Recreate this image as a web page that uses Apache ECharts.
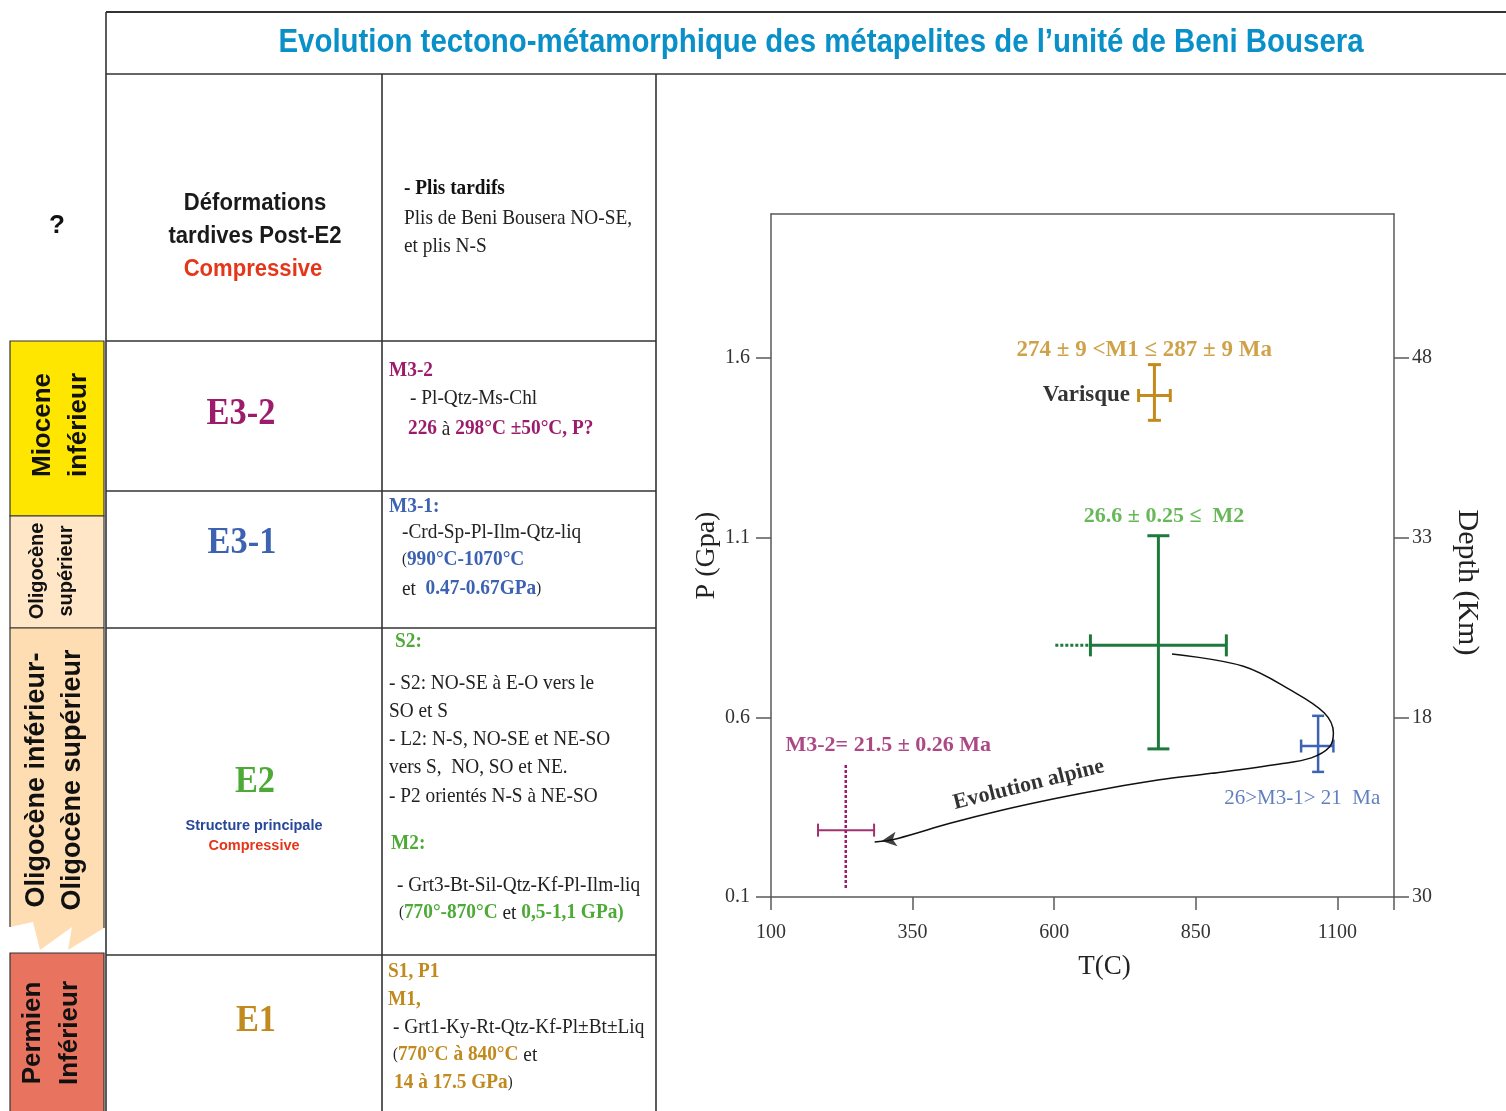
<!DOCTYPE html>
<html>
<head>
<meta charset="utf-8">
<script src="https://cdn.jsdelivr.net/npm/echarts@6/dist/echarts.min.js"></script>
<style>
  html, body { margin: 0; padding: 0; background: #ffffff; }
  #main { width: 1506px; height: 1111px; }
</style>
</head>
<body>
<div id="main"></div>
<script>
// ---------- P–T diagram values ----------
const tempTicks = [100, 350, 600, 850, 1100];
const tempTickMarks = [100, 350, 600, 850, 1100, 1200];
const pressTicks = [0.1, 0.6, 1.1, 1.6];
const depthTickLabels = ['30', '18', '33', '48'];

// error crosses: [T centre, P centre, T min, T max, P min, P max]
const m1Cross = [777, 1.495, 749, 805, 1.426, 1.581];
const m2Cross = [784, 0.80, 664, 904, 0.512, 1.105];
const m2Extension = [[602, 0.80], [664, 0.80]];
const m31Cross = [1066, 0.52, 1036, 1093, 0.448, 0.604];
const m32Cross = [232, 0.286, 183, 282, 0.125, 0.47];

// retrograde alpine path (T °C, P GPa), ending at the arrow tip
const alpinePath = [
  [808, 0.776], [934, 0.742], [1017, 0.676], [1077, 0.612], [1093, 0.556],
  [1086, 0.517], [1054, 0.487], [998, 0.470], [878, 0.444], [786, 0.426],
  [694, 0.402], [602, 0.374], [509, 0.342], [416, 0.305], [324, 0.263], [283, 0.253]
];

// annotations in the diagram (text, anchor T, anchor P)
const plotNotes = [
  ['274 ± 9 <M1 ≤ 287 ± 9 Ma', 759, 1.622],
  ['Varisque', 734, 1.497],
  ['26.6 ± 0.25 ≤  M2', 794, 1.160],
  ['26>M3-1> 21  Ma', 1038, 0.373],
  ['M3-2= 21.5 ± 0.26 Ma', 307, 0.523],
  ['Evolution alpine', 555, 0.412]
];

// ---------- table content ----------
const titleText = 'Evolution tectono-métamorphique des métapelites de l’unité de Beni Bousera';
const eraNames = [
  ['Miocene', 'inférieur'],
  ['Oligocène', 'supérieur'],
  ['Oligocène inférieur-', 'Oligocène supérieur'],
  ['Permien', 'Inférieur']
];
const stageNames = ['E3-2', 'E3-1', 'E2', 'E1'];
const lateDeformation = ['Déformations', 'tardives Post-E2', 'Compressive'];
const e2Notes = ['Structure principale', 'Compressive'];
const cellNotes = [
  '{k|- Plis tardifs}', 'Plis de Beni Bousera NO-SE,', 'et plis N-S',
  '{p|M3-2}', '- Pl-Qtz-Ms-Chl', '{p|226} à {p|298°C ±50°C, P?}',
  '{b|M3-1:}', '-Crd-Sp-Pl-Ilm-Qtz-liq', '{s|(}{b|990°C-1070°C}', 'et  {b|0.47-0.67GPa}{s|)}',
  '{g|S2:}', '- S2: NO-SE à E-O vers le', 'SO et S', '- L2: N-S, NO-SE et NE-SO',
  'vers S,  NO, SO et NE.', '- P2 orientés N-S à NE-SO', '{g|M2:}',
  '- Grt3-Bt-Sil-Qtz-Kf-Pl-Ilm-liq', '{s|(}{g|770°-870°C} et {g|0,5-1,1 GPa)}',
  '{o|S1, P1}', '{o|M1,}', '- Grt1-Ky-Rt-Qtz-Kf-Pl±Bt±Liq', '{s|(}{o|770°C à 840°C} et',
  '{o|14 à 17.5 GPa}{s|)}'
];

// ---------- layout & styles ----------
const SERIF = '"Liberation Serif", "Times New Roman", serif';
const SANS = '"Liberation Sans", Arial, sans-serif';
const C = {
  purple: '#9C1C6B', blue: '#3D62B1', green: '#4DAA37', gold: '#C18A1F',
  red: '#E5361A', title: '#0A90C8', ink: '#222222', rule: '#333333',
  darkGreen: '#1D7A3C', crossPurple: '#A3306F', crossGold: '#C38B1B', crossBlue: '#3E63B4'
};
const noteXY = [
  [404, 189], [404, 218], [404, 246],
  [389, 371], [410, 398], [408, 429],
  [389, 507], [402, 532], [402, 560], [402, 589],
  [395, 642], [389, 683], [389, 711], [389, 739], [389, 767], [389, 796], [391, 844],
  [397, 885], [399, 913],
  [388, 972], [388, 1000], [393, 1027], [393, 1055], [394, 1083]
];
const noteStyles = [
  { color: '#C38B1B', size: 23, weight: 'bold', align: 'center' },
  { color: '#000', size: 23, weight: 'bold', align: 'right' },
  { color: '#42A530', size: 22, weight: 'bold', align: 'center' },
  { color: '#3A5FB0', size: 21, weight: 'normal', align: 'center' },
  { color: '#971A66', size: 22, weight: 'bold', align: 'center' },
  { color: '#000', size: 22, weight: 'bold', align: 'center', rotate: 14 }
];

function rs(color, weight, size) {
  return { fill: color, fontWeight: weight, fontSize: size, fontFamily: SERIF };
}
const noteRich = {
  k: rs('#111', 'bold', 21),
  p: rs(C.purple, 'bold', 21),
  b: rs(C.blue, 'bold', 21),
  g: rs(C.green, 'bold', 21),
  o: rs(C.gold, 'bold', 21),
  s: rs(C.ink, 'normal', 16)
};

function text(x, y, str, o) {
  return {
    type: 'text', x: x, y: y, rotation: o.rotation || 0, scaleX: o.scaleX || 1,
    silent: true, z: 10,
    style: {
      text: str, fill: o.fill || C.ink, fontSize: o.size, fontFamily: o.family || SANS,
      fontWeight: o.weight || 'normal', align: o.align || 'center',
      verticalAlign: 'middle', rich: o.rich
    }
  };
}
function rule(x1, y1, x2, y2, w) {
  return { type: 'line', silent: true, z: 5,
    shape: { x1: x1, y1: y1, x2: x2, y2: y2 },
    style: { stroke: C.rule, lineWidth: w || 1.6 } };
}

const graphics = [];
// frame of the table
graphics.push(rule(106, 12, 1506, 12, 2));
graphics.push(rule(106, 74, 1506, 74, 1.6));
graphics.push(rule(106, 12, 106, 1111, 1.6));
graphics.push(rule(382, 74, 382, 1111, 1.6));
graphics.push(rule(656, 74, 656, 1111, 1.6));
[341, 491, 628, 955].forEach(y => graphics.push(rule(106, y, 656, y, 1.6)));

// era column
const eraFill = ['#FFE600', '#FEE6C7', '#FDDDB1', '#E8735F'];
graphics.push({ type: 'rect', silent: true, shape: { x: 10, y: 341, width: 94, height: 175 },
  style: { fill: eraFill[0], stroke: C.rule, lineWidth: 1.2 } });
graphics.push({ type: 'rect', silent: true, shape: { x: 10, y: 516, width: 94, height: 112 },
  style: { fill: eraFill[1], stroke: C.rule, lineWidth: 1.2 } });
graphics.push({ type: 'polygon', silent: true,
  shape: { points: [[10, 628], [104, 628], [104, 928], [68, 950], [72, 927], [40, 950], [33, 922], [10, 927]] },
  style: { fill: eraFill[2], stroke: null } });
graphics.push(rule(10, 628, 104, 628, 1.2));
graphics.push(rule(10, 628, 10, 927, 1.2));
graphics.push(rule(104, 628, 104, 928, 1.2));
graphics.push({ type: 'rect', silent: true, shape: { x: 10, y: 953, width: 94, height: 160 },
  style: { fill: eraFill[3], stroke: C.rule, lineWidth: 1.2 } });

const up = Math.PI / 2;
graphics.push(text(43, 425, eraNames[0][0], { size: 26, weight: 'bold', rotation: up, fill: '#111' }));
graphics.push(text(79, 425, eraNames[0][1], { size: 26, weight: 'bold', rotation: up, fill: '#111' }));
graphics.push(text(37, 571, eraNames[1][0], { size: 20, weight: 'bold', rotation: up, fill: '#111' }));
graphics.push(text(66, 571, eraNames[1][1], { size: 20, weight: 'bold', rotation: up, fill: '#111' }));
graphics.push(text(37, 780, eraNames[2][0], { size: 27, weight: 'bold', rotation: up, fill: '#111' }));
graphics.push(text(73, 780, eraNames[2][1], { size: 27, weight: 'bold', rotation: up, fill: '#111' }));
graphics.push(text(33, 1033, eraNames[3][0], { size: 26, weight: 'bold', rotation: up, fill: '#111' }));
graphics.push(text(70, 1033, eraNames[3][1], { size: 26, weight: 'bold', rotation: up, fill: '#111' }));
graphics.push(text(57, 226, '?', { size: 26, weight: 'bold', fill: '#111' }));

// title (condensed by horizontal scaling)
graphics.push(text(821, 43, titleText, { size: 34, weight: 'bold', fill: C.title, scaleX: 0.865 }));

// stage column
graphics.push(text(255, 204, lateDeformation[0], { size: 23, weight: 'bold', fill: '#1a1a1a', scaleX: 0.96 }));
graphics.push(text(255, 237, lateDeformation[1], { size: 23, weight: 'bold', fill: '#1a1a1a', scaleX: 0.96 }));
graphics.push(text(253, 270, lateDeformation[2], { size: 23, weight: 'bold', fill: C.red, scaleX: 0.96 }));
graphics.push(text(241, 414, stageNames[0], { size: 37, weight: 'bold', family: SERIF, fill: C.purple, scaleX: 0.93 }));
graphics.push(text(242, 543, stageNames[1], { size: 37, weight: 'bold', family: SERIF, fill: C.blue, scaleX: 0.93 }));
graphics.push(text(255, 782, stageNames[2], { size: 37, weight: 'bold', family: SERIF, fill: C.green, scaleX: 0.93 }));
graphics.push(text(254, 826, e2Notes[0], { size: 14.5, weight: 'bold', fill: '#27479A' }));
graphics.push(text(254, 846, e2Notes[1], { size: 14.5, weight: 'bold', fill: C.red }));
graphics.push(text(256, 1021, stageNames[3], { size: 37, weight: 'bold', family: SERIF, fill: C.gold, scaleX: 0.93 }));

// notes column
cellNotes.forEach((s, i) => {
  graphics.push(text(noteXY[i][0], noteXY[i][1], s,
    { size: 21, family: SERIF, align: 'left', fill: C.ink, rich: noteRich, scaleX: 0.92 }));
});

// ---------- diagram series ----------
function crossSeries(values, o) {
  return {
    type: 'custom', silent: true, z: 3, data: [values],
    renderItem: function (params, api) {
      const T = api.value(0), P = api.value(1);
      const L = api.coord([api.value(2), P]), R = api.coord([api.value(3), P]);
      const B = api.coord([T, api.value(4)]), U = api.coord([T, api.value(5)]);
      const hs = { stroke: o.hColor, lineWidth: o.hWidth, lineDash: o.hDash || null };
      const vs = { stroke: o.vColor, lineWidth: o.vWidth, lineDash: o.vDash || null };
      const kids = [
        { type: 'line', shape: { x1: L[0], y1: L[1], x2: R[0], y2: R[1] }, style: hs },
        { type: 'line', shape: { x1: B[0], y1: B[1], x2: U[0], y2: U[1] }, style: vs }
      ];
      if (o.hCap) {
        [L, R].forEach(p => kids.push({ type: 'line',
          shape: { x1: p[0], y1: p[1] - o.hCap / 2, x2: p[0], y2: p[1] + o.hCap / 2 },
          style: { stroke: o.hColor, lineWidth: o.hWidth } }));
      }
      if (o.vCap) {
        [B, U].forEach(p => kids.push({ type: 'line',
          shape: { x1: p[0] - o.vCap / 2, y1: p[1], x2: p[0] + o.vCap / 2, y2: p[1] },
          style: { stroke: o.vColor, lineWidth: o.vWidth } }));
      }
      return { type: 'group', children: kids };
    }
  };
}

const axisFont = { fontFamily: SERIF, fontSize: 20, color: '#333' };
const axisLine = { show: true, onZero: false, lineStyle: { color: '#5a5a5a', width: 1.5 } };

const option = {
  animation: false,
  backgroundColor: '#ffffff',
  grid: { left: 771, top: 214, width: 623, height: 683, containLabel: false },
  xAxis: [
    {
      type: 'value', min: 100, max: 1200, position: 'bottom',
      axisLine: axisLine,
      axisTick: { show: true, inside: false, length: 13, customValues: tempTickMarks,
        lineStyle: { color: '#5a5a5a', width: 1.5 } },
      axisLabel: Object.assign({ customValues: tempTicks, margin: 26,
        formatter: v => String(v) }, axisFont),
      splitLine: { show: false },
      name: 'T(C)', nameLocation: 'middle', nameGap: 56,
      nameTextStyle: { fontFamily: SERIF, fontSize: 27, color: '#222', padding: [0, 0, 0, 44] }
    },
    {
      type: 'value', min: 100, max: 1200, position: 'top',
      axisLine: axisLine, axisTick: { show: false }, axisLabel: { show: false },
      splitLine: { show: false }
    }
  ],
  yAxis: [
    {
      type: 'value', min: 0.1, max: 2.0, position: 'left',
      axisLine: axisLine,
      axisTick: { show: true, length: 15, customValues: pressTicks,
        lineStyle: { color: '#5a5a5a', width: 1.5 } },
      axisLabel: Object.assign({ customValues: pressTicks, margin: 21,
        formatter: v => Number(v).toFixed(1) }, axisFont),
      splitLine: { show: false },
      name: 'P (Gpa)', nameLocation: 'middle', nameGap: 45, nameRotate: 90,
      nameTextStyle: { fontFamily: SERIF, fontSize: 28, color: '#222' }
    },
    {
      type: 'value', min: 0.1, max: 2.0, position: 'right',
      axisLine: axisLine,
      axisTick: { show: true, length: 15, customValues: pressTicks,
        lineStyle: { color: '#5a5a5a', width: 1.5 } },
      axisLabel: Object.assign({ customValues: pressTicks, margin: 18,
        formatter: v => {
          const i = pressTicks.findIndex(t => Math.abs(t - v) < 1e-6);
          return i >= 0 ? depthTickLabels[i] : '';
        } }, axisFont),
      splitLine: { show: false },
      name: 'Depth (Km)', nameLocation: 'middle', nameGap: 58, nameRotate: -90,
      nameTextStyle: { fontFamily: SERIF, fontSize: 30, color: '#222', padding: [0, 0, 0, 54] }
    }
  ],
  graphic: graphics,
  series: [
    crossSeries(m1Cross, { hColor: C.crossGold, vColor: C.crossGold, hWidth: 3, vWidth: 3, hCap: 13, vCap: 13 }),
    crossSeries(m2Cross, { hColor: C.darkGreen, vColor: C.darkGreen, hWidth: 3, vWidth: 3, hCap: 22, vCap: 22 }),
    crossSeries(m31Cross, { hColor: C.crossBlue, vColor: C.crossBlue, hWidth: 2.5, vWidth: 2.5, hCap: 13, vCap: 12 }),
    crossSeries(m32Cross, { hColor: C.crossPurple, vColor: C.purple, hWidth: 2, vWidth: 2.5,
      hCap: 13, vCap: 0, vDash: [3, 2] }),
    {
      type: 'line', silent: true, data: m2Extension, symbol: 'none', z: 3,
      lineStyle: { color: C.darkGreen, width: 3, type: [3, 2] }
    },
    {
      type: 'line', silent: true, data: alpinePath, symbol: 'none', smooth: 0.35, z: 4,
      lineStyle: { color: '#111', width: 1.5 }
    },
    {
      type: 'scatter', silent: true, z: 5,
      data: [alpinePath[alpinePath.length - 1]],
      symbol: 'arrow', symbolSize: [11, 15], symbolRotate: 98, symbolOffset: [7, -1],
      itemStyle: { color: '#111' }
    },
    {
      type: 'scatter', silent: true, symbolSize: 0, z: 6,
      data: plotNotes.map((n, i) => ({
        value: [n[1], n[2]],
        label: {
          show: true, formatter: n[0],
          position: noteStyles[i].align === 'right' ? 'left' : 'inside',
          distance: 0,
          rotate: noteStyles[i].rotate || 0,
          color: noteStyles[i].color, fontSize: noteStyles[i].size,
          fontWeight: noteStyles[i].weight, fontFamily: SERIF
        }
      }))
    }
  ]
};

const chart = echarts.init(document.getElementById('main'), null, { renderer: 'canvas' });
chart.setOption(option);
</script>
</body>
</html>
